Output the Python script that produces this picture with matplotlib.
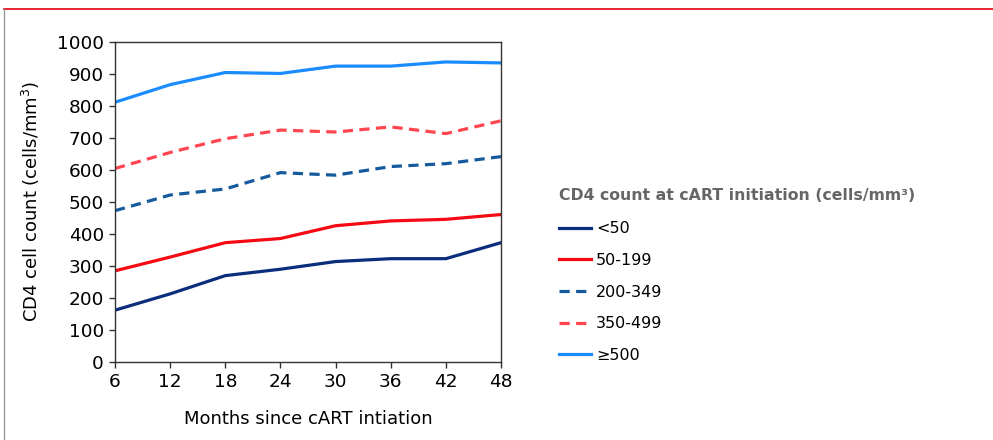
import numpy as np
import matplotlib.pyplot as plt
from matplotlib.lines import Line2D

months = [6, 12, 18, 24, 30, 36, 42, 48]
lt50 = [161, 212, 269, 289, 313, 322, 322, 372]
g50_199 = [284, 327, 372, 385, 425, 440, 445, 460]
g200_349 = [472, 521, 540, 591, 583, 610, 619, 641]
g350_499 = [604, 654, 697, 724, 718, 734, 713, 753]
ge500 = [811, 866, 904, 901, 924, 924, 937, 934]
labels = ['<50', '50-199', '200-349', '350-499', '\u2265500']

plt.rcParams['font.family'] = ['DejaVu Sans']

fig = plt.figure(figsize=(9.93, 4.4), dpi=100)
ax = fig.add_axes([0.1158, 0.178, 0.3887, 0.727])

lw = 2.3
ax.plot(months, lt50, color='#0a2d7c', linewidth=lw, label=labels[0])
ax.plot(months, g50_199, color='#f50a14', linewidth=lw, label=labels[1])
ax.plot(months, g200_349, color='#155a9c', linewidth=lw, dashes=(3.2, 2), label=labels[2])
ax.plot(months, g350_499, color='#ff4650', linewidth=lw, dashes=(3.2, 2), label=labels[3])
ax.plot(months, ge500, color='#1a8cff', linewidth=lw, label=labels[4])

ax.set_xlim(6, 48)
ax.set_ylim(0, 1000)
ax.set_xticks(months)
ax.set_yticks(np.arange(0, 1001, 100))
ax.tick_params(labelsize=13.3, length=4, width=1, color='#333333', pad=4)
for s in ax.spines.values():
    s.set_color('#333333')
    s.set_linewidth(1)

ax.set_xlabel('Months since cART intiation', fontsize=13, labelpad=14)
ax.set_ylabel('CD4 cell count (cells/mm$^3$)', fontsize=13, labelpad=11)

leg = ax.legend(loc='upper left', bbox_to_anchor=(0.5625, 0.572), bbox_transform=fig.transFigure,
                frameon=False, fontsize=11.5, handlelength=2.0, handletextpad=0.35,
                labelspacing=1.04, borderaxespad=0, borderpad=0,
                title='CD4 count at cART initiation (cells/mm\u00b3)')
leg.get_title().set_fontsize(11.3)
leg.get_title().set_fontweight('bold')
leg.get_title().set_color('#666666')
leg._legend_box.align = 'left'
leg._legend_box.sep = 13

# page frame
fig.add_artist(Line2D([0.004, 1.0], [1 - 9.5 / 440, 1 - 9.5 / 440], color='#e8141e', linewidth=1.3,
                      transform=fig.transFigure))
fig.add_artist(Line2D([0.0045, 0.0045], [0, 1 - 9.5 / 440], color='#9a9a9a', linewidth=1,
                      transform=fig.transFigure))

fig.savefig('out.png', dpi=100)
